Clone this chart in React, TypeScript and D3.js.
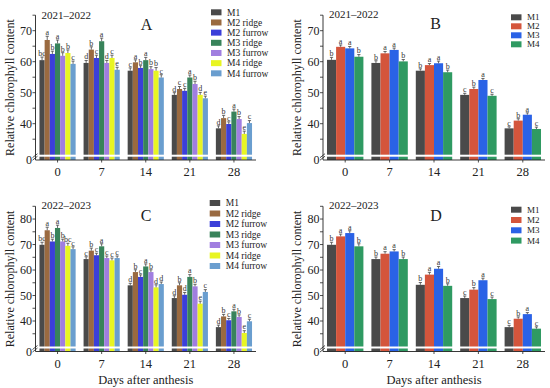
import React from 'react';
import * as d3 from 'd3';

// days after anthesis
const days = ["0", "7", "14", "21", "28"];

const namesSplit = ["M1", "M2 ridge", "M2 furrow", "M3 ridge", "M3 furrow", "M4 ridge", "M4 furrow"];
const namesPlain = ["M1", "M2", "M3", "M4"];

const colorsSplit = ["#4a4a4a", "#9a6a40", "#3b3fd9", "#38835a", "#a07ee0", "#e8f522", "#6a9ecf"];
const colorsPlain = ["#4a4a4a", "#d4553c", "#2a62e6", "#2f9a62"];

// 2021-2022, ridge / furrow split (A)
const valuesA = [
  [60.5, 59.6, 57.1, 49.3, 38.5],
  [67.0, 63.9, 59.8, 51.2, 41.8],
  [62.5, 61.2, 58.0, 50.6, 39.9],
  [65.9, 66.6, 60.5, 54.9, 43.9],
  [61.9, 59.6, 57.6, 52.8, 41.5],
  [62.8, 61.2, 57.1, 49.3, 36.7],
  [59.3, 57.4, 54.9, 48.2, 40.2],
];
const errA = [
  [1.0, 0.8, 0.9, 0.7, 0.8],
  [1.2, 0.9, 0.8, 0.8, 0.9],
  [0.9, 0.9, 0.7, 0.8, 0.7],
  [1.1, 1.0, 0.9, 0.8, 0.8],
  [1.0, 0.8, 0.8, 0.9, 0.8],
  [1.0, 0.9, 1.0, 0.8, 0.9],
  [0.9, 0.8, 0.9, 0.7, 0.8],
];
const lettersA = [
  ["bc", "d", "c", "d", "d"],
  ["a", "b", "a", "c", "b"],
  ["b", "c", "b", "c", "c"],
  ["a", "a", "a", "a", "a"],
  ["b", "d", "b", "b", "b"],
  ["b", "c", "b", "d", "e"],
  ["c", "e", "c", "e", "c"],
];

// 2021-2022, treatments (B)
const valuesB = [
  [60.6, 59.6, 57.1, 49.3, 38.5],
  [64.8, 62.7, 58.9, 51.2, 41.0],
  [64.3, 63.8, 59.5, 54.1, 42.9],
  [61.6, 60.1, 56.6, 49.0, 38.3],
];
const errB = [
  [0.8, 0.7, 0.6, 0.5, 0.5],
  [0.6, 0.6, 0.5, 0.6, 0.6],
  [0.6, 0.6, 0.7, 0.5, 0.6],
  [0.7, 0.6, 0.7, 0.5, 0.6],
];
const lettersB = [
  ["b", "b", "b", "c", "c"],
  ["a", "a", "a", "b", "b"],
  ["a", "a", "a", "a", "a"],
  ["b", "b", "b", "c", "c"],
];

// 2022-2023, ridge / furrow split (C)
const valuesC = [
  [69.9, 64.3, 54.0, 49.0, 37.6],
  [75.6, 67.6, 59.2, 54.0, 41.8],
  [71.2, 65.8, 57.3, 50.3, 40.3],
  [76.5, 69.3, 61.4, 57.3, 43.8],
  [71.2, 64.7, 59.2, 53.6, 41.6],
  [69.5, 63.8, 53.2, 46.8, 35.3],
  [68.2, 64.7, 54.5, 51.4, 39.9],
];
const errC = [
  [1.0, 0.9, 0.8, 0.9, 0.8],
  [1.2, 1.0, 0.9, 1.0, 0.8],
  [0.9, 0.8, 0.8, 0.9, 0.7],
  [1.1, 1.0, 1.0, 0.9, 0.8],
  [0.9, 0.8, 0.9, 0.8, 0.8],
  [1.0, 0.9, 1.0, 1.0, 0.9],
  [0.9, 0.8, 0.8, 0.9, 0.8],
];
const lettersC = [
  ["bc", "c", "d", "d", "d"],
  ["a", "b", "b", "b", "b"],
  ["b", "c", "c", "d", "c"],
  ["a", "a", "a", "a", "a"],
  ["b", "c", "b", "b", "b"],
  ["bc", "c", "d", "e", "e"],
  ["c", "c", "d", "c", "c"],
];

// 2022-2023, treatments (D)
const valuesD = [
  [69.9, 64.3, 54.2, 49.0, 37.6],
  [73.2, 66.4, 58.2, 52.3, 40.9],
  [74.5, 67.3, 60.5, 56.0, 42.7],
  [69.3, 64.3, 53.8, 48.6, 37.0],
];
const errD = [
  [1.0, 0.8, 0.9, 0.8, 0.7],
  [0.9, 0.8, 0.9, 0.8, 0.7],
  [0.9, 0.7, 0.9, 0.8, 0.6],
  [1.0, 0.8, 0.8, 0.8, 0.7],
];
const lettersD = [
  ["b", "b", "b", "c", "c"],
  ["a", "a", "a", "b", "b"],
  ["a", "a", "a", "a", "a"],
  ["b", "b", "b", "c", "c"],
];

const serif = '"Liberation Serif", "Times New Roman", "DejaVu Serif", serif';

type PanelProps = {
  names: string[];
  colors: string[];
  values: number[][];
  errs: number[][];
  letters: string[][];
  year: string;
  tag: string;
  ax: number;      // y axis x
  xEnd: number;
  zeroY: number;
  yTop: number;
  yBottom: number; // y of value 30
  yMax: number;
  yLabels: number[];
  legX: number;
  legY: number;
  legStep: number;
  legFont: number;
  tagX: number;
  tagY: number;
  yearY: number;
  showXTitle: boolean;
};

const Panel = (p: PanelProps) => {
  const x = d3.scaleBand<string>()
    .domain(days)
    .range([p.ax, p.xEnd])
    .paddingInner(0.18)
    .paddingOuter(0.09);
  const y = d3.scaleLinear().domain([30, p.yMax]).range([p.yBottom, p.yTop]);
  const xs = d3.scaleBand<number>()
    .domain(d3.range(p.names.length))
    .range([0, x.bandwidth()]);

  const ticks = d3.range(35, p.yMax + 0.1, 5);

  return (
    <g>
      {/* bars */}
      {p.values.map((row, si) => (
        <g key={si}>
          {row.map((v, di) => {
            const bx = (x(days[di]) as number) + (xs(si) as number);
            const bw = xs.bandwidth();
            const top = y(v);
            const eTop = y(v + p.errs[si][di]);
            const cx = bx + bw / 2;
            return (
              <g key={di}>
                <rect x={bx} y={top} width={bw} height={p.zeroY - top} fill={p.colors[si]} />
                <line x1={cx} x2={cx} y1={top} y2={eTop} stroke="#444" strokeWidth={0.8} />
                <line x1={cx - 1.6} x2={cx + 1.6} y1={eTop} y2={eTop} stroke="#444" strokeWidth={0.8} />
                <text x={cx} y={eTop - 1.2} fontSize={8} textAnchor="middle" fill="#333">
                  {p.letters[si][di]}
                </text>
              </g>
            );
          })}
        </g>
      ))}
      {/* axis break stripe */}
      <rect x={p.ax + 1} y={p.yBottom} width={p.xEnd - p.ax} height={2} fill="#fff" />

      {/* y axis */}
      <line x1={p.ax} x2={p.ax} y1={p.yTop} y2={p.zeroY} stroke="#222" strokeWidth={0.9} />
      {ticks.map(t => (
        <line key={t} x1={p.ax - 3} x2={p.ax} y1={y(t)} y2={y(t)} stroke="#222" strokeWidth={0.8} />
      ))}
      {p.yLabels.map(t => (
        <text key={t} x={p.ax - 3.5} y={y(t)} dy="0.35em" fontSize={12} textAnchor="end" fill="#222">{t}</text>
      ))}
      <text x={p.ax - 3.5} y={p.zeroY} dy="0.35em" fontSize={12} textAnchor="end" fill="#222">0</text>
      {/* break marks */}
      <line x1={p.ax - 3} x2={p.ax + 2} y1={p.yBottom + 3} y2={p.yBottom - 1} stroke="#222" strokeWidth={0.8} />
      <line x1={p.ax - 3} x2={p.ax + 2} y1={p.yBottom + 5.5} y2={p.yBottom + 1.5} stroke="#222" strokeWidth={0.8} />

      {/* x axis */}
      <line x1={p.ax} x2={p.xEnd} y1={p.zeroY} y2={p.zeroY} stroke="#222" strokeWidth={0.9} />
      {days.map(d => {
        const cx = (x(d) as number) + x.bandwidth() / 2;
        return (
          <g key={d}>
            <line x1={cx} x2={cx} y1={p.zeroY} y2={p.zeroY + 2.5} stroke="#222" strokeWidth={0.8} />
            <text x={cx} y={p.zeroY + 16} fontSize={12.5} textAnchor="middle" fill="#222">{d}</text>
          </g>
        );
      })}

      {/* y title */}
      <text
        transform={`translate(${p.ax - 22},${(p.yTop + p.zeroY) / 2}) rotate(-90)`}
        fontSize={12}
        textAnchor="middle"
        fill="#222"
      >Relative chlorophyll content</text>
      {p.showXTitle && (
        <text x={(p.ax + p.xEnd) / 2} y={p.zeroY + 32} fontSize={12.5} textAnchor="middle" fill="#222">
          Days after anthesis
        </text>
      )}

      {/* year and tag */}
      <text x={p.ax + 6} y={p.yearY} fontSize={11} fill="#222">{p.year}</text>
      <text x={p.tagX} y={p.tagY} fontSize={16} textAnchor="middle" fill="#222">{p.tag}</text>

      {/* legend */}
      {p.names.map((n, i) => (
        <g key={n} transform={`translate(${p.legX},${p.legY + i * p.legStep})`}>
          <rect x={0} y={-3} width={10.5} height={6} fill={p.colors[i]} />
          <text x={16} y={0} dy="0.35em" fontSize={p.legFont} fill="#222">{n}</text>
        </g>
      ))}
    </g>
  );
};

const App = () => {
  return (
    <svg width={550} height={388} fontFamily={serif}
      style={{ position: 'absolute', left: 0, top: 0, background: '#fff', fontFamily: serif }}>
      <Panel names={namesSplit} colors={colorsSplit} values={valuesA} errs={errA} letters={lettersA}
        year="2021–2022" tag="A" ax={35.5} xEnd={256} zeroY={160} yTop={15.2} yBottom={154.7} yMax={75}
        yLabels={[40, 50, 60, 70]} legX={211} legY={12.3} legStep={10.17} legFont={9.5}
        tagX={146.5} tagY={30} yearY={19} showXTitle={false} />
      <Panel names={namesPlain} colors={colorsPlain} values={valuesB} errs={errB} letters={lettersB}
        year="2021–2022" tag="B" ax={323} xEnd={545} zeroY={160} yTop={15.2} yBottom={154.7} yMax={75}
        yLabels={[40, 50, 60, 70]} legX={511} legY={17.3} legStep={9} legFont={9}
        tagX={435.5} tagY={28.5} yearY={18} showXTitle={false} />
      <Panel names={namesSplit} colors={colorsSplit} values={valuesC} errs={errC} letters={lettersC}
        year="2022–2023" tag="C" ax={35.5} xEnd={256} zeroY={351.5} yTop={206.3} yBottom={346.5} yMax={85}
        yLabels={[40, 50, 60, 70, 80]} legX={209.7} legY={203} legStep={10.5} legFont={9.5}
        tagX={146} tagY={221} yearY={209} showXTitle={true} />
      <Panel names={namesPlain} colors={colorsPlain} values={valuesD} errs={errD} letters={lettersD}
        year="2022–2023" tag="D" ax={323} xEnd={545} zeroY={351.5} yTop={206.3} yBottom={346.5} yMax={85}
        yLabels={[40, 50, 60, 70, 80]} legX={511} legY={209.7} legStep={10.3} legFont={9}
        tagX={436} tagY={220.5} yearY={209} showXTitle={true} />
    </svg>
  );
};

export default App;
